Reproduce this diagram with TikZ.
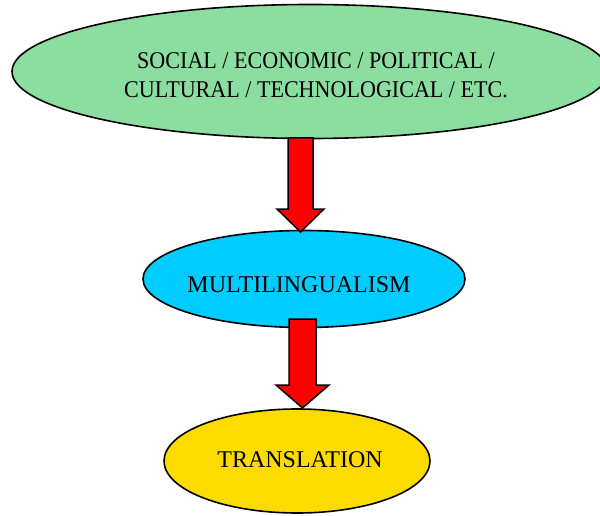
\documentclass[tikz,border=0pt]{standalone}
\usepackage{fontspec}
\setmainfont{Liberation Serif}
\newfontfamily\narrowserif[FakeStretch=0.92]{Liberation Serif}
\usetikzlibrary{shapes.geometric,calc}
\definecolor{cgreen}{RGB}{140,222,160}
\definecolor{cblue}{RGB}{0,204,255}
\definecolor{cyellow}{RGB}{252,219,0}
\definecolor{cred}{RGB}{255,0,0}
\tikzset{
  oval/.style={ellipse, draw=black, line width=1.6pt, inner sep=0pt},
  lbl/.style={inner sep=0pt, align=center, font=\fontsize{24}{28.5}\selectfont},
  blockarrow/.style={fill=cred, draw=black, line width=1.5pt, line join=miter},
}
\newcommand\blockarr[4]{%
  \path[blockarrow] let \p1=(#1), \p2=(#2) in
    (\x1-#3pt,\y1) -- (\x1-#3pt,\y2+23pt) -- (\x1-#4pt,\y2+23pt) -- (\x1,\y2)
    -- (\x1+#4pt,\y2+23pt) -- (\x1+#3pt,\y2+23pt) -- (\x1+#3pt,\y1) -- cycle;}
\begin{document}
\begin{tikzpicture}[x=1pt,y=-1pt]
\useasboundingbox (0,0) rectangle (600,516);
\node[oval, fill=cgreen, minimum width=596pt, minimum height=134pt] (top) at (310,71.5) {};
\node[oval, fill=cblue, minimum width=322pt, minimum height=97pt] (mid) at (304,279) {};
\node[oval, fill=cyellow, minimum width=266pt, minimum height=104pt] (bot) at (297,461) {};
\node[lbl, font=\fontsize{24}{28.5}\narrowserif] (toptxt) at (316,75) {SOCIAL / ECONOMIC / POLITICAL /\\CULTURAL / TECHNOLOGICAL / ETC.};
\node[lbl] (midtxt) at (299,285) {MULTILINGUALISM};
\node[lbl] (bottxt) at (300,460) {TRANSLATION};
\coordinate (a1s) at (300.5,138);
\coordinate (a1e) at (300.5,232);
\coordinate (a2s) at (302.5,319);
\coordinate (a2e) at (302.5,408);
\blockarr{a1s}{a1e}{12.5}{23.5}
\blockarr{a2s}{a2e}{13.5}{26.5}
\end{tikzpicture}
\end{document}
